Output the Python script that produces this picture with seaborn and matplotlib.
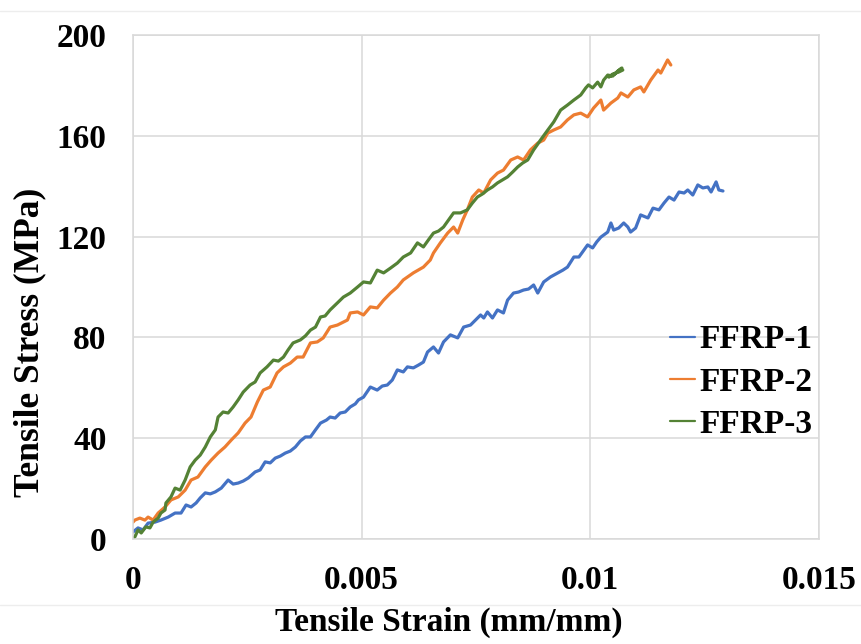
import matplotlib
matplotlib.use("Agg")
import matplotlib.pyplot as plt
from matplotlib.lines import Line2D
import seaborn as sns
import pandas as pd

# ---------------- data ----------------
strain_1 = [0.0, 0.00011, 0.00022, 0.00033, 0.00048, 0.00061, 0.00077, 0.00092, 0.00105, 0.00116,
            0.00127, 0.00138, 0.00147, 0.00158, 0.00169, 0.00180, 0.00193, 0.00208, 0.00219, 0.00230,
            0.00241, 0.00252, 0.00267, 0.00278, 0.00289, 0.00300, 0.00311, 0.00322, 0.00333, 0.00344,
            0.00355, 0.00366, 0.00377, 0.00388, 0.00399, 0.00410, 0.00423, 0.00431, 0.00442, 0.00453,
            0.00464, 0.00475, 0.00486, 0.00493, 0.00504, 0.00519, 0.00534, 0.00545, 0.00556, 0.00567,
            0.00578, 0.00591, 0.00600, 0.00613, 0.00624, 0.00635, 0.00644, 0.00657, 0.00668, 0.00679,
            0.00694, 0.00710, 0.00723, 0.00738, 0.00749, 0.00760, 0.00767, 0.00775, 0.00786, 0.00797,
            0.00810, 0.00819, 0.00832, 0.00843, 0.00854, 0.00865, 0.00876, 0.00885, 0.00898, 0.00913,
            0.00929, 0.00940, 0.00950, 0.00964, 0.00975, 0.00983, 0.00994, 0.01005, 0.01014, 0.01023,
            0.01038, 0.01045, 0.01051, 0.01062, 0.01073, 0.01082, 0.01088, 0.01099, 0.01110, 0.01126,
            0.01137, 0.01150, 0.01161, 0.01172, 0.01183, 0.01194, 0.01205, 0.01213, 0.01224, 0.01235,
            0.01246, 0.01257, 0.01264, 0.01275, 0.01281, 0.01290]
stress_1 = [2.8, 4.4, 3.6, 6.3, 6.7, 7.5, 8.7, 10.3, 10.3, 13.5,
            12.7, 14.3, 16.3, 18.3, 17.9, 18.7, 20.2, 23.4, 21.8, 22.2,
            23.0, 24.2, 26.6, 27.4, 30.6, 30.2, 32.1, 32.9, 34.1, 34.9,
            36.5, 38.9, 40.5, 40.5, 43.3, 46.0, 47.2, 48.4, 48.0, 50.0,
            50.4, 52.4, 53.6, 55.2, 56.3, 60.3, 59.1, 60.7, 61.1, 63.1,
            67.1, 66.3, 68.3, 67.9, 69.0, 70.2, 74.2, 76.2, 73.8, 78.2,
            81.0, 79.8, 84.1, 84.9, 86.9, 88.9, 87.7, 90.1, 87.7, 90.9,
            89.7, 94.8, 97.6, 98.0, 98.8, 99.2, 100.8, 97.6, 102.0, 104.0,
            105.6, 106.7, 107.9, 111.9, 111.9, 113.9, 116.7, 115.5, 117.9, 119.8,
            121.8, 125.4, 122.6, 123.4, 125.4, 123.8, 121.8, 123.4, 128.6, 127.4,
            131.3, 130.6, 133.3, 135.7, 134.5, 137.7, 137.3, 138.5, 136.5, 140.5,
            139.3, 139.7, 137.7, 141.7, 138.5, 138.1]

strain_2 = [0.0, 0.00004, 0.00015, 0.00026, 0.00033, 0.00044, 0.00055, 0.00070, 0.00083, 0.00099,
            0.00114, 0.00127, 0.00142, 0.00158, 0.00171, 0.00186, 0.00201, 0.00215, 0.00230, 0.00245,
            0.00258, 0.00272, 0.00285, 0.00300, 0.00315, 0.00329, 0.00344, 0.00359, 0.00372, 0.00388,
            0.00403, 0.00416, 0.00431, 0.00447, 0.00469, 0.00475, 0.00491, 0.00504, 0.00519, 0.00534,
            0.00548, 0.00563, 0.00578, 0.00591, 0.00613, 0.00635, 0.00650, 0.00657, 0.00672, 0.00688,
            0.00701, 0.00710, 0.00721, 0.00731, 0.00742, 0.00756, 0.00767, 0.00782, 0.00797, 0.00810,
            0.00826, 0.00841, 0.00854, 0.00869, 0.00885, 0.00898, 0.00907, 0.00920, 0.00935, 0.00950,
            0.00964, 0.00979, 0.00994, 0.01007, 0.01023, 0.01029, 0.01045, 0.01060, 0.01067, 0.01082,
            0.01095, 0.01110, 0.01117, 0.01132, 0.01148, 0.01154, 0.01169, 0.01176]
stress_2 = [6.7, 7.5, 8.3, 7.5, 8.7, 7.5, 10.3, 12.7, 15.5, 16.7,
            19.4, 23.4, 24.6, 28.6, 31.3, 34.1, 36.5, 39.3, 42.1, 46.0,
            48.4, 54.4, 59.1, 60.3, 65.9, 68.3, 69.8, 72.2, 72.2, 77.8,
            78.2, 79.8, 84.1, 84.9, 86.9, 89.7, 90.1, 88.9, 92.1, 91.7,
            94.8, 97.6, 100.0, 102.8, 105.6, 107.9, 110.7, 113.5, 117.5, 121.4,
            123.8, 121.4, 126.6, 130.6, 135.7, 138.5, 137.3, 142.5, 145.2, 146.4,
            150.4, 151.6, 150.4, 154.4, 157.1, 158.3, 161.1, 162.3, 163.5, 166.3,
            168.3, 169.0, 167.5, 171.0, 174.2, 170.2, 173.0, 175.0, 177.0, 175.4,
            178.2, 179.4, 177.4, 182.1, 186.1, 184.9, 190.1, 188.1]

strain_3 = [0.0, 0.00004, 0.00011, 0.00018, 0.00028, 0.00037, 0.00044, 0.00055, 0.00061, 0.00070,
            0.00072, 0.00083, 0.00092, 0.00103, 0.00114, 0.00125, 0.00136, 0.00147, 0.00158, 0.00169,
            0.00180, 0.00186, 0.00197, 0.00208, 0.00219, 0.00230, 0.00241, 0.00256, 0.00267, 0.00278,
            0.00293, 0.00307, 0.00318, 0.00329, 0.00339, 0.00350, 0.00366, 0.00377, 0.00388, 0.00399,
            0.00410, 0.00420, 0.00431, 0.00447, 0.00460, 0.00475, 0.00491, 0.00504, 0.00519, 0.00534,
            0.00548, 0.00563, 0.00578, 0.00591, 0.00607, 0.00622, 0.00635, 0.00646, 0.00657, 0.00668,
            0.00679, 0.00690, 0.00701, 0.00716, 0.00731, 0.00742, 0.00753, 0.00764, 0.00775, 0.00786,
            0.00797, 0.00808, 0.00819, 0.00830, 0.00841, 0.00852, 0.00863, 0.00876, 0.00885, 0.00891,
            0.00907, 0.00920, 0.00935, 0.00950, 0.00964, 0.00979, 0.00990, 0.00996, 0.01005, 0.01016,
            0.01023, 0.01029, 0.01038, 0.01049, 0.01060, 0.01069, 0.01053, 0.01040, 0.01049, 0.01062,
            0.01071]
stress_3 = [0.4, 0.8, 3.6, 2.4, 4.8, 4.4, 6.7, 8.3, 10.3, 11.5,
            14.3, 16.7, 20.2, 19.4, 23.4, 28.6, 31.3, 33.3, 36.5, 40.5,
            43.3, 48.4, 50.4, 50.0, 52.4, 55.2, 58.3, 61.1, 62.3, 65.9,
            68.3, 71.0, 70.6, 72.2, 75.0, 77.8, 79.0, 80.6, 82.9, 84.1,
            88.1, 88.5, 90.9, 93.7, 96.0, 97.6, 100.0, 102.0, 101.6, 106.7,
            105.6, 107.5, 109.5, 111.9, 113.5, 117.5, 115.9, 118.7, 121.4, 122.2,
            123.8, 126.6, 129.4, 129.4, 130.6, 133.3, 135.7, 136.9, 138.5, 139.7,
            141.3, 142.5, 143.7, 145.6, 147.6, 149.2, 150.4, 154.4, 156.7, 158.3,
            162.3, 165.5, 170.2, 172.2, 174.2, 176.2, 179.0, 180.2, 179.0, 181.3,
            179.4, 182.1, 184.1, 183.7, 185.7, 186.9, 184.5, 183.3, 184.5, 185.3,
            186.1]

series_names = ["FFRP-1", "FFRP-2", "FFRP-3"]
series_colors = ["#4472C4", "#ED7D31", "#548235"]
x_ticks = [0, 0.005, 0.01, 0.015]
x_tick_labels = ["0", "0.005", "0.01", "0.015"]
y_ticks = [0, 40, 80, 120, 160, 200]
x_label = "Tensile Strain (mm/mm)"
y_label = "Tensile Stress (MPa)"

# ---------------- long-form table ----------------
frames = []
for name, xs, ys in zip(series_names, [strain_1, strain_2, strain_3], [stress_1, stress_2, stress_3]):
    frames.append(pd.DataFrame({"strain": xs, "stress": ys, "specimen": name,
                                "order": range(len(xs))}))
df = pd.concat(frames, ignore_index=True)

# ---------------- style ----------------
sns.set_theme(style="whitegrid")
plt.rcParams["font.family"] = ["Liberation Serif", "DejaVu Serif"]
plt.rcParams["font.weight"] = "bold"
plt.rcParams["text.color"] = "black"

grid_color = "#D9D9D9"

fig = plt.figure(figsize=(8.62, 6.44), dpi=100)
fig.patch.set_facecolor("white")
ax = fig.add_axes([133 / 862, 1 - 539 / 644, (819 - 133) / 862, (539 - 35) / 644])

sns.lineplot(data=df, x="strain", y="stress", hue="specimen", hue_order=series_names,
             palette=series_colors, sort=False, estimator=None, linewidth=2.3, ax=ax)

ax.set_xlim(0, 0.015)
ax.set_ylim(0, 200)
ax.set_xticks(x_ticks)
ax.set_xticklabels(x_tick_labels)
ax.set_yticks(y_ticks)
ax.set_yticklabels([str(v) for v in y_ticks])

ax.grid(True, color=grid_color, linewidth=1.1)
ax.set_facecolor("white")
for sp in ax.spines.values():
    sp.set_visible(True)
    sp.set_color(grid_color)
    sp.set_linewidth(1.1)

ax.tick_params(axis="both", length=0, labelsize=24, colors="black")
ax.tick_params(axis="x", pad=19)
ax.tick_params(axis="y", pad=19)
for lab in ax.get_xticklabels() + ax.get_yticklabels():
    lab.set_fontweight("bold")

ax.set_xlabel(x_label, fontsize=24, fontweight="bold", color="black")
ax.set_ylabel(y_label, fontsize=25.5, fontweight="bold", color="black")
ax.xaxis.set_label_coords(0.461, -0.135)
ax.yaxis.set_label_coords(-0.126, 0.391)

# legend
handles = [Line2D([0], [0], color=c, linewidth=1.6) for c in series_colors]
leg = ax.legend(handles, series_names, loc="center left", bbox_to_anchor=(0.783, 0.311),
                frameon=False, handlelength=0.75, handletextpad=0.12,
                labelspacing=0.34, borderpad=0, borderaxespad=0, labelcolor="black",
                prop={"family": ["Liberation Serif"], "weight": "bold", "size": 24})

# faint chart-area border lines seen in the reference
fig.add_artist(Line2D([0, 1], [1 - 11 / 644, 1 - 11 / 644], transform=fig.transFigure,
                      color="#EDEDED", linewidth=1.0))
fig.add_artist(Line2D([0, 1], [1 - 605 / 644, 1 - 605 / 644], transform=fig.transFigure,
                      color="#EDEDED", linewidth=1.0))

fig.savefig("out.png", dpi=100, facecolor="white")
